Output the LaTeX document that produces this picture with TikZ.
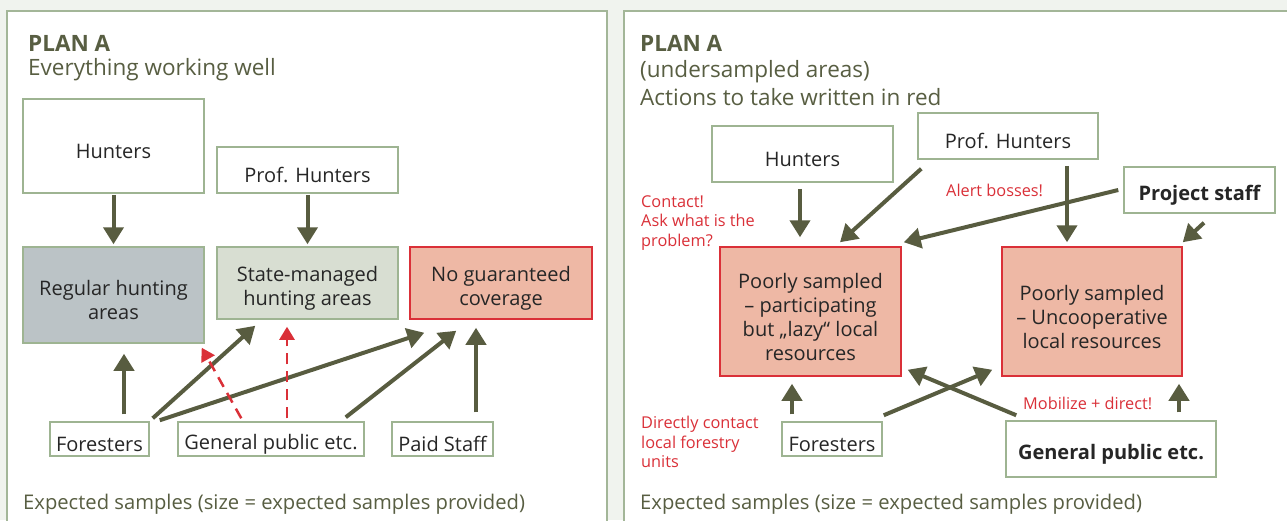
\documentclass[tikz,border=0pt]{standalone}
\usepackage{fontspec}
\setmainfont{Open Sans}
\usetikzlibrary{calc}
\usetikzlibrary{arrows.meta}
\definecolor{bgcol}{RGB}{240,243,238}
\definecolor{framecol}{RGB}{163,182,152}
\definecolor{boxline}{RGB}{158,180,146}
\definecolor{arrcol}{RGB}{88,92,64}
\definecolor{titlecol}{RGB}{88,94,66}
\definecolor{textcol}{RGB}{38,38,38}
\definecolor{greyfill}{RGB}{187,195,198}
\definecolor{palefill}{RGB}{216,222,210}
\definecolor{salmon}{RGB}{238,184,165}
\definecolor{redcol}{RGB}{218,48,56}
\tikzset{box/.style={draw=boxline,line width=1.5pt,fill=white,inner sep=0pt,align=center,text=textcol,font=\fontsize{20}{24}\selectfont,execute at begin node={\rule{0pt}{26pt}}}}
\tikzset{red box/.style={box,draw=redcol,fill=salmon}}
\tikzset{arr/.style={draw=arrcol,line width=4pt,-{Triangle[width=20pt,length=17pt]}}}
\tikzset{red arr/.style={draw=redcol,line width=2.5pt,dash pattern=on 11pt off 7pt,-{Triangle[width=15pt,length=13pt]}}}
\tikzset{red note/.style={text=redcol,align=left,anchor=west,inner sep=0pt,font=\fontsize{16.3}{19.5}\selectfont}}
\tikzset{title/.style={text=titlecol,anchor=west,inner sep=0pt,font=\fontsize{22.5}{26}\selectfont}}
\tikzset{foot/.style={text=titlecol,anchor=west,inner sep=0pt,font=\fontsize{20.2}{24}\selectfont}}
\def\boxstrut{\rule{0pt}{26pt}}

\begin{document}
\begin{tikzpicture}[x=1pt,y=-1pt]

            %背景
            \useasboundingbox (0,0) rectangle (1287,520);
            \fill[bgcol] (0,0) rectangle (1287,520);
            \draw[framecol,line width=1.8pt,fill=white] (7,11) rectangle (607,540);
            \draw[framecol,line width=1.8pt,fill=white] (624,11) rectangle (1300,540);

            %左のパネル
            \node[title, font=\fontsize{22.5}{26}\selectfont\bfseries] (planL) at (28,43) {PLAN A};
            \node[title] (subL) at (28,70) {Everything working well};
            \node[box, minimum width=181pt, minimum height=94pt] (hunL) at (113.5,146) {Hunters};
            \node[box, minimum width=181pt, minimum height=46pt] (profL) at (307.5,170) {Prof. Hunters};
            \node[box, fill=greyfill, minimum width=181pt, minimum height=96pt] (regL) at (113.5,295) {\boxstrut Regular hunting\\areas};
            \node[box, fill=palefill, minimum width=181pt, minimum height=72pt] (stateL) at (307.5,283) {\boxstrut State-managed\\hunting areas};
            \node[red box, minimum width=182pt, minimum height=72pt] (noL) at (501,283) {\boxstrut No guaranteed\\coverage};
            \node[box, minimum width=99pt, minimum height=34pt] (forL) at (99.5,439) {Foresters};
            \node[box, minimum width=186pt, minimum height=34pt] (genL) at (271,439) {General public etc.};
            \node[box, minimum width=101pt, minimum height=34pt] (paidL) at (442.5,439) {Paid Staff};
            \node[foot] (expL) at (23,504) {Expected samples (size = expected samples provided)};

            %矢印
            \draw[arr] ($(hunL.south)+(0,1)$) -- ($(regL.north)+(0,-2)$);
            \draw[arr] ($(profL.south)+(0,1)$) -- ($(stateL.north)+(0,-2)$);
            \draw[arr] ($(forL.north)+(24.5,-7)$) -- ($(regL.south)+(10.5,10)$);
            \draw[arr] ($(forL.north east)+(3,-3)$) -- ($(stateL.south west)+(39,6)$);
            \draw[arr] ($(forL.north east)+(10,-1)$) -- ($(noL.south west)+(15,13)$);
            \draw[arr] ($(genL.north east)+(-19,-4)$) -- ($(noL.south west)+(47,11)$);
            \draw[arr] ($(paidL.north)+(33.5,-9)$) -- ($(noL.south)+(-25,8)$);
            \draw[red arr] ($(genL.north west)+(64,-3)$) -- ($(regL.south east)+(-3,4)$);
            \draw[red arr] ($(genL.north)+(16,-3)$) -- ($(stateL.south)+(-20.5,7)$);

            %右のパネル
            \node[title, font=\fontsize{22.5}{26}\selectfont\bfseries] (planR) at (640,43) {PLAN A};
            \node[title] (subR) at (640,72) {(undersampled areas)};
            \node[title] (actR) at (640,97) {Actions to take written in red};
            \node[box, minimum width=181pt, minimum height=56pt] (hunR) at (802.5,154) {Hunters};
            \node[box, minimum width=180pt, minimum height=46pt] (profR) at (1008,136) {Prof. Hunters};
            \node[box, font=\fontsize{20}{24}\selectfont\bfseries, minimum width=151pt, minimum height=46pt] (projR) at (1199.5,190) {Project staff};
            \node[red box, minimum width=181pt, minimum height=129pt] (poorA) at (810.5,311.5) {\boxstrut Poorly sampled\\– participating\\but „lazy“ local\\resources};
            \node[red box, minimum width=180pt, minimum height=129pt] (poorB) at (1092,311.5) {\boxstrut Poorly sampled\\– Uncooperative\\local resources};
            \node[box, minimum width=100pt, minimum height=34pt] (forR) at (832,439) {Foresters};
            \node[box, font=\fontsize{20}{24}\selectfont\bfseries, minimum width=210pt, minimum height=56pt] (genR) at (1111,449) {General public etc.};
            \node[foot] (expR) at (640,504) {Expected samples (size = expected samples provided)};

            %赤い文字
            \node[red note] (contact) at (641,223) {Contact!\\Ask what is the\\problem?};
            \node[red note] (alert) at (946,190) {Alert bosses!};
            \node[red note] (direct) at (641,442) {Directly contact\\local forestry\\units};
            \node[red note] (mobil) at (1023,403) {Mobilize + direct!};

            %矢印
            \draw[arr] ($(hunR.south)+(-2.5,6)$) -- ($(poorA.north)+(-10.5,-9)$);
            \draw[arr] ($(profR.south west)+(4,9)$) -- ($(poorA.north)+(29.5,-4)$);
            \draw[arr] ($(projR.west)+(-5,0)$) -- ($(poorA.north east)+(2,-4)$);
            \draw[arr] ($(profR.south)+(59,6)$) -- ($(poorB.north)+(-25,-4)$);
            \draw[arr] ($(projR.south)+(4.5,9)$) -- ($(poorB.north east)+(0,-4)$);
            \draw[arr] ($(forR.north)+(-40,-7)$) -- ($(poorA.south)+(-18.5,7)$);
            \draw[arr] ($(forR.north east)+(1,-6)$) -- ($(poorB.south west)+(-9,-7)$);
            \draw[arr] ($(genR.north west)+(11,-5)$) -- ($(poorA.south east)+(6,-7)$);
            \draw[arr] ($(genR.north)+(68,-8)$) -- ($(poorB.south)+(87,7)$);

\end{tikzpicture}
\end{document}
